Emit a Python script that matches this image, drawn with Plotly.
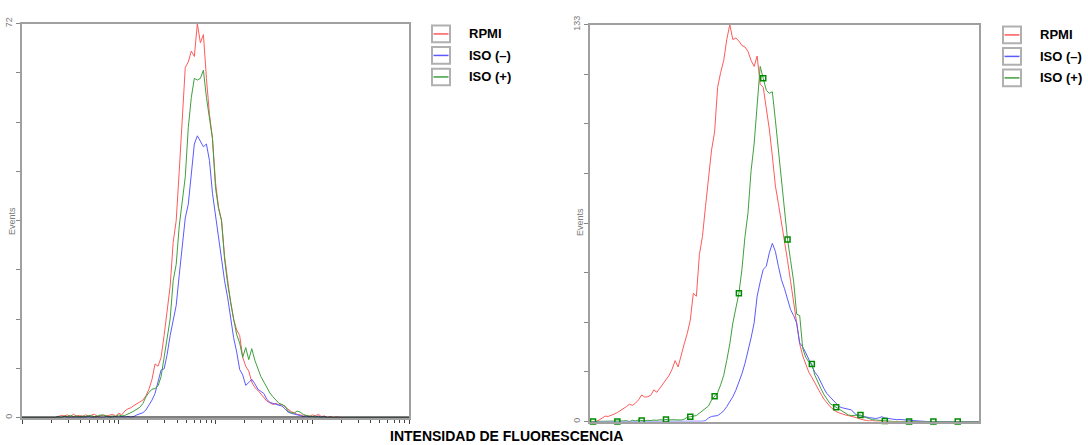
import plotly.graph_objects as go

# ---------------- data (channel index, 32 channels per decade) ----------------
channels = list(range(0, 129))

series_names = ["RPMI", "ISO (–)", "ISO (+)"]
series_colors = ["#ff5a5a", "#5a5aff", "#3f9f3f"]

# Left histogram (max 72 events)
left_rpmi = [0, 0, 0, 0, 0, 0, 0, 0, 0, 0,
             0, 0, 0.2, 0.4, 0.3, 0.5, 0.2, 0.6, 0.3, 0.4,
             0.2, 0.5, 0.3, 0.4, 0.6, 0.2, 0.3, 0.5, 0.3, 0.4,
             0.6, 0.3, 0.8, 0.5, 1.2, 1.6, 1.8, 2.2, 2.5, 2.8,
             3.2, 4.0, 5.2, 7.0, 9.8, 9.4, 11, 15, 19.3, 24,
             32, 36, 45, 55, 64, 65, 67, 66, 72, 68.5,
             70, 62, 55.5, 51, 43, 38.5, 36, 29.5, 25, 21,
             18, 16, 15, 11, 9.4, 8.5, 6.5, 5.5, 5, 4.4,
             3.8, 3, 2.7, 2.4, 2.6, 2.3, 2.4, 2, 1.5, 1.1,
             0.9, 0.6, 0.5, 0.3, 0.4, 0.2, 0.5, 0.3, 0.6, 0.2,
             0.3, 0, 0.2, 0, 0.1, 0, 0, 0, 0, 0,
             0, 0, 0, 0, 0, 0, 0, 0, 0, 0,
             0, 0, 0, 0, 0, 0, 0, 0, 0]
left_iso_neg = [0, 0, 0, 0, 0, 0, 0, 0, 0, 0,
                0, 0, 0, 0, 0.2, 0, 0, 0, 0.1, 0,
                0, 0, 0.2, 0, 0, 0.1, 0, 0, 0.2, 0,
                0.1, 0.2, 0.1, 0.2, 0.1, 0.2, 0.1, 0.2, 0.5, 0.7,
                0.9, 1.4, 2.2, 3.2, 4.4, 6.5, 8.7, 8.9, 11.5, 15,
                17.5, 20.5, 26, 31, 36.5, 39, 45, 50, 51.5, 50.5,
                49.5, 50, 47, 41, 37, 33, 29, 25, 22, 18.5,
                14.6, 12, 8.8, 7.8, 5.9, 6.4, 7, 6.2, 5.2, 4.8,
                4.4, 3.3, 2.8, 2.6, 2.4, 2.3, 2.1, 1.6, 1.0, 0.8,
                0.6, 0.5, 0.4, 0.2, 0.3, 0.1, 0.2, 0, 0.3, 0,
                0.2, 0, 0, 0, 0, 0, 0, 0, 0, 0,
                0, 0, 0, 0, 0, 0, 0, 0, 0, 0,
                0, 0, 0, 0, 0, 0, 0, 0, 0]
left_iso_pos = [0, 0, 0, 0, 0, 0, 0, 0, 0, 0,
                0, 0, 0.2, 0, 0.3, 0.2, 0.4, 0.2, 0.3, 0.2,
                0.3, 0.2, 0.4, 0.3, 0.2, 0.3, 0.5, 0.4, 0.3, 0.2,
                0.3, 0.2, 0.5, 0.3, 0.4, 0.6, 0.9, 1.2, 1.5, 1.9,
                2.6, 3.8, 4.6, 5.2, 5.3, 5.8, 7.5, 11, 14, 18,
                25, 28, 35, 40, 44, 53, 58.5, 62, 61.7, 62,
                63.5, 58.5, 55, 51, 42, 38.2, 36, 29, 24.5, 21,
                18, 15.2, 13.6, 11, 12.8, 10.6, 12.6, 10.5, 9, 7.5,
                6.5, 5.5, 4.5, 3.8, 3.1, 2.6, 2.4, 2.1, 1.2, 0.9,
                0.8, 1.2, 1.0, 0.6, 0.4, 0.3, 0.2, 0.3, 0, 0.1,
                0, 0, 0, 0, 0, 0, 0, 0, 0, 0,
                0, 0, 0, 0, 0, 0, 0, 0, 0, 0,
                0, 0, 0, 0, 0, 0, 0, 0, 0]

# Right histogram (max 133 events)
right_rpmi = [0, 0, 0, 0.5, 1.3, 1.8, 1.7, 2.0, 2.5, 3.0,
              3.6, 4.3, 5.0, 5.8, 5.4, 6.2, 7.3, 8.9, 8.2, 8.3,
              8.8, 10.6, 9.8, 11.2, 12.6, 13.8, 15.4, 17.5, 20.4, 18.3,
              22.5, 26, 29.5, 34, 43, 42, 56, 62, 72, 82,
              91, 97, 112, 117, 121, 128, 133, 128, 128.5, 127.5,
              126, 125.5, 124, 121, 119, 122.5, 113, 112, 105, 98,
              89, 79, 73, 67, 61.5, 54, 47, 39.5, 33.5, 26,
              22, 19.5, 16.5, 14.8, 12.8, 11, 9.2, 7.5, 6.1, 5.0,
              4.1, 3.3, 2.9, 2.5, 2.2, 2.0, 1.8, 1.5, 1.2, 0.8,
              0.5, 0.3, 0.2, 0.3, 0.1, 0.2, 0.1, 0, 0, 0,
              0, 0, 0, 0, 0, 0, 0, 0, 0, 0,
              0, 0, 0, 0, 0, 0, 0, 0, 0, 0,
              0, 0, 0, 0, 0, 0, 0, 0, 0]
right_iso_neg = [0, 0, 0, 0, 0, 0, 0, 0, 0, 0,
                 0, 0, 0, 0, 0, 0, 0, 0, 0, 0,
                 0, 0, 0.1, 0.2, 0, 0.1, 0.2, 0.1, 0.2, 0.1,
                 0.2, 0.1, 0.2, 0.1, 0.2, 0.1, 0.2, 0.1, 0.3, 1.2,
                 1.7, 1.8, 2.0, 2.7, 3.6, 5.0, 6.5, 8.3, 10.5, 13,
                 16, 19.5, 23.5, 28, 33, 42, 46.8, 51, 52, 56.5,
                 59.7, 57, 52, 47.5, 44.5, 41, 37.5, 35.5, 33, 26.3,
                 25, 23, 21, 18.5, 16.5, 15.2, 12.8, 11, 9.3, 8.2,
                 7.3, 6, 5, 4.6, 4.4, 4.2, 3.9, 2.8, 2, 1.9,
                 1.8, 1.5, 1.3, 1.1, 1.0, 1.2, 1.6, 1.2, 1.0, 0.9,
                 0.8, 0.6, 0.7, 0.5, 0.5, 0.4, 0.3, 0.2, 0.2, 0.1,
                 0, 0, 0, 0, 0, 0, 0, 0, 0, 0,
                 0, 0, 0, 0, 0, 0, 0, 0, 0]
right_iso_pos = [0, 0, 0, 0, 0, 0, 0, 0, 0, 0,
                 0, 0.2, 0.3, 0, 0.4, 0.2, 0.5, 0.3, 0.2, 0.4,
                 0.3, 0.5, 0.4, 0.6, 0.5, 0.7, 0.5, 0.6, 0.5, 0.4,
                 0.5, 0.8, 1.4, 1.6, 1.7, 2.0, 2.8, 3.6, 4.3, 5.2,
                 7.2, 8.5, 9.7, 12.3, 15.5, 20.5, 26, 33, 38, 43,
                 51, 62, 70, 84, 93, 107, 119, 115, 111, 110,
                 110.5, 101, 91, 82, 73, 61, 54, 47, 36, 35.5,
                 24.5, 21.5, 20, 19.3, 15.5, 13, 11, 9, 7.5, 6,
                 5.4, 4.8, 4.0, 3.4, 2.8, 2.2, 2.0, 2.1, 2.3, 2.2,
                 1.6, 1.2, 1.0, 0.6, 0.5, 0.4, 0.3, 0.2, 0, 0.1,
                 0, 0, 0, 0, 0, 0, 0, 0, 0, 0,
                 0, 0, 0, 0, 0, 0, 0, 0, 0, 0,
                 0, 0, 0, 0, 0, 0, 0, 0, 0]

left_max = 72
right_max = 133
y_divisions = 8
x_title = "INTENSIDAD DE FLUORESCENCIA"
y_title = "Events"

# ---------------- figure ----------------
W, H = 1088, 445
CHANNELS_PER_DECADE = 32
xvals = [10 ** (c / CHANNELS_PER_DECADE) for c in channels]

fig = go.Figure()

left_series = [left_rpmi, left_iso_neg, left_iso_pos]
right_series = [right_rpmi, right_iso_neg, right_iso_pos]

for ys, name, col in zip(left_series, series_names, series_colors):
    fig.add_trace(go.Scatter(x=xvals, y=ys, mode="lines", name=name,
                             line=dict(color=col, width=1),
                             xaxis="x", yaxis="y", showlegend=False))
for ys, name, col in zip(right_series, series_names, series_colors):
    fig.add_trace(go.Scatter(x=xvals, y=ys, mode="lines", name=name,
                             line=dict(color=col, width=1),
                             xaxis="x2", yaxis="y2", showlegend=False))
# gate markers on the ISO (+) curve of the right panel (every 8th channel)
fig.add_trace(go.Scatter(x=xvals[1::8], y=right_iso_pos[1::8], mode="markers",
                         marker=dict(symbol="square-open", size=5, color="#008a00",
                                     line=dict(width=1.5)),
                         xaxis="x2", yaxis="y2", showlegend=False, cliponaxis=False))

def px_x(p):
    return p / W

def px_y(p):
    return 1 - p / H

frame = "#a0a0a0"
lab_font = dict(family="Liberation Sans, Arial, sans-serif", size=9, color="#7a7a7a")

major = [10 ** k for k in range(0, 5)]
minor = [m * 10 ** k for k in range(0, 4) for m in range(2, 10)]

def yticks(vmax):
    vals = [vmax * i / y_divisions for i in range(y_divisions + 1)]
    txt = ["0"] + [""] * (y_divisions - 1) + [str(vmax)]
    return vals, txt

lv, lt = yticks(left_max)
rv, rt = yticks(right_max)

fig.update_layout(
    width=W, height=H,
    margin=dict(l=0, r=0, t=0, b=0),
    paper_bgcolor="white", plot_bgcolor="white",
    xaxis=dict(type="log", range=[0, 4], domain=[px_x(22), px_x(409)],
               showgrid=False, zeroline=False, showline=True, mirror=True,
               linecolor=frame, linewidth=2,
               tickmode="array", tickvals=major, ticks="outside", ticklen=4,
               tickcolor="#444", tickwidth=1, showticklabels=False,
               minor=dict(tickmode="array", tickvals=minor, ticks="outside",
                          ticklen=3, tickcolor="#444", tickwidth=1),
               anchor="y"),
    yaxis=dict(range=[0, left_max], domain=[px_y(418), px_y(15)],
               showgrid=False, zeroline=False, showline=True, mirror=True,
               linecolor=frame, linewidth=2,
               tickmode="array", tickvals=lv, ticktext=lt, ticks="outside",
               ticklen=4, tickcolor="#888", tickangle=-90, tickfont=lab_font,
               anchor="x"),
    xaxis2=dict(type="log", range=[0, 4], domain=[px_x(590), px_x(979)],
                showgrid=False, zeroline=False, showline=True, mirror=True,
                linecolor=frame, linewidth=2, ticks="", showticklabels=False,
                anchor="y2"),
    yaxis2=dict(range=[0, right_max], domain=[px_y(422), px_y(16)],
                showgrid=False, zeroline=False, showline=True, mirror=True,
                linecolor=frame, linewidth=2,
                tickmode="array", tickvals=rv, ticktext=rt, ticks="outside",
                ticklen=4, tickcolor="#888", tickangle=-90, tickfont=lab_font,
                anchor="x2"),
)

shapes = []
annotations = []

# black baseline on left panel
shapes.append(dict(type="line", xref="x", yref="y", x0=1, x1=10 ** 4, y0=0, y1=0,
                   line=dict(color="black", width=2)))

# axis titles
annotations.append(dict(text=y_title, x=px_x(12), y=px_y(217), xref="paper", yref="paper",
                        showarrow=False, textangle=-90, font=lab_font,
                        xanchor="center", yanchor="middle"))
annotations.append(dict(text=y_title, x=px_x(580), y=px_y(218), xref="paper", yref="paper",
                        showarrow=False, textangle=-90, font=lab_font,
                        xanchor="center", yanchor="middle"))
annotations.append(dict(text="<b>" + x_title + "</b>", x=px_x(506), y=px_y(437),
                        xref="paper", yref="paper", showarrow=False,
                        font=dict(family="Liberation Sans, Arial, sans-serif", size=14, color="black"),
                        xanchor="center", yanchor="middle"))

# custom legends
legend_rows = [(17, 34), (39, 56), (61, 78)]
for (bx0, bx1, tx), dy in [((432, 450, 467), 0), ((1003, 1021, 1038), 1)]:
    for (y0, y1), name, col in zip(legend_rows, series_names, series_colors):
        y0 += dy
        y1 += dy
        shapes.append(dict(type="rect", xref="paper", yref="paper",
                           x0=px_x(bx0), x1=px_x(bx1), y0=px_y(y1), y1=px_y(y0),
                           line=dict(color="#b0b0b0", width=2), fillcolor="white",
                           layer="above"))
        ym = (y0 + y1) / 2
        shapes.append(dict(type="line", xref="paper", yref="paper",
                           x0=px_x(bx0 + 1.5), x1=px_x(bx1 - 1.5), y0=px_y(ym), y1=px_y(ym),
                           line=dict(color=col, width=1.5), layer="above"))
        annotations.append(dict(text="<b>" + name + "</b>", x=px_x(tx), y=px_y(ym),
                                xref="paper", yref="paper", showarrow=False,
                                xanchor="left", yanchor="middle",
                                font=dict(family="Liberation Sans, Arial, sans-serif",
                                          size=13, color="black")))

fig.update_layout(shapes=shapes, annotations=annotations)

fig.write_html("out.html")
